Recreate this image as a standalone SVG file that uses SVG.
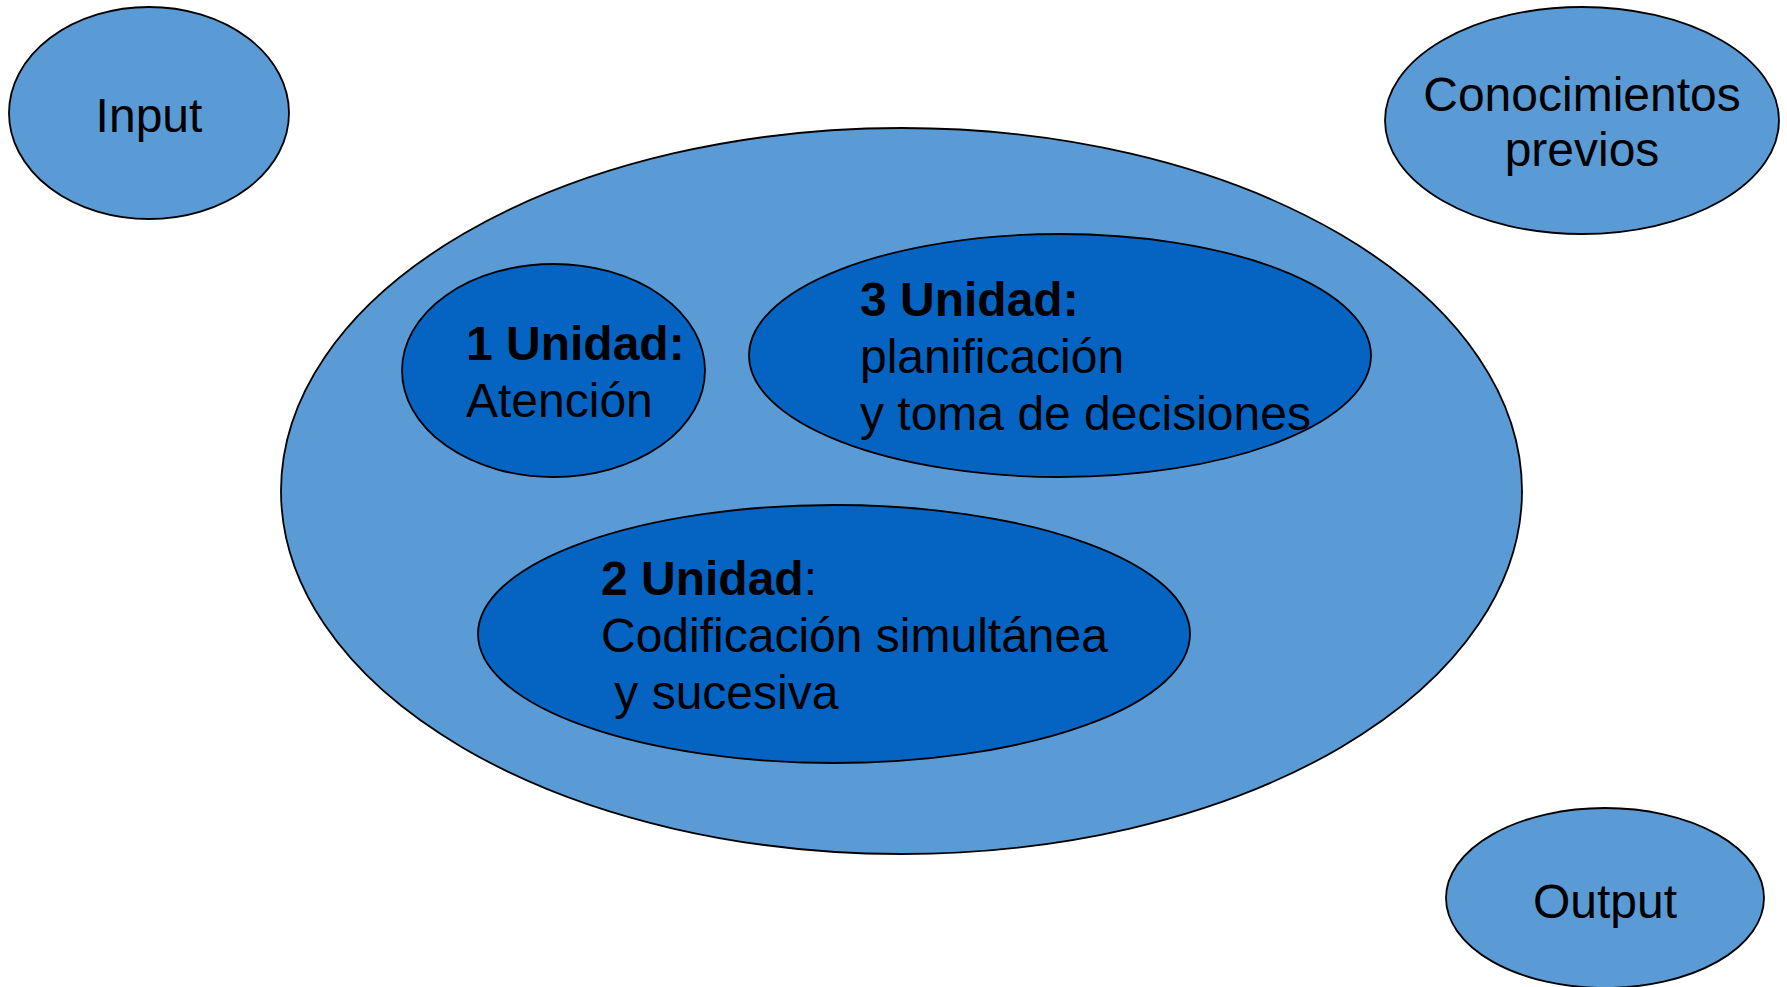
<svg xmlns="http://www.w3.org/2000/svg" width="1787" height="987" viewBox="0 0 1787 987">
<style>
.light{fill:#5B9BD5;stroke:#000;stroke-width:1.8}
.dark{fill:#0563C1;stroke:#000;stroke-width:1.8}
text{font-family:"Liberation Sans",Arial,sans-serif;font-size:48px;fill:#000}
.c{text-anchor:middle}
.b{font-weight:bold}
</style>
<rect x="0" y="0" width="1787" height="987" fill="#fff"/>
<g id="connectors"></g>
<g id="input">
<ellipse class="light" cx="149" cy="113" rx="140" ry="106"/>
<text class="c" x="149" y="132">Input</text>
</g>
<g id="conocimientos">
<ellipse class="light" cx="1582" cy="120.5" rx="197" ry="113.5"/>
<text class="c" x="1582" y="111">Conocimientos</text>
<text class="c" x="1582" y="166">previos</text>
</g>
<g id="proceso">
<ellipse class="light" cx="901.5" cy="491" rx="620.5" ry="363"/>
</g>
<g id="unidad1">
<ellipse class="dark" cx="553.5" cy="370.5" rx="151.5" ry="106.5"/>
<text x="466" y="360" class="b">1 Unidad:</text>
<text x="466" y="417">Atención</text>
</g>
<g id="unidad3">
<ellipse class="dark" cx="1060" cy="355.5" rx="311" ry="121.5"/>
<text x="860" y="316" class="b">3 Unidad:</text>
<text x="860" y="373">planificación</text>
<text x="860" y="430">y toma de decisiones</text>
</g>
<g id="unidad2">
<ellipse class="dark" cx="834" cy="634" rx="356" ry="129"/>
<text x="601" y="595"><tspan class="b">2 Unidad</tspan>:</text>
<text x="601" y="652">Codificación simultánea</text>
<text x="601" y="709" xml:space="preserve"> y sucesiva</text>
</g>
<g id="output">
<ellipse class="light" cx="1605" cy="898" rx="159" ry="90"/>
<text class="c" x="1605" y="918">Output</text>
</g>
</svg>
